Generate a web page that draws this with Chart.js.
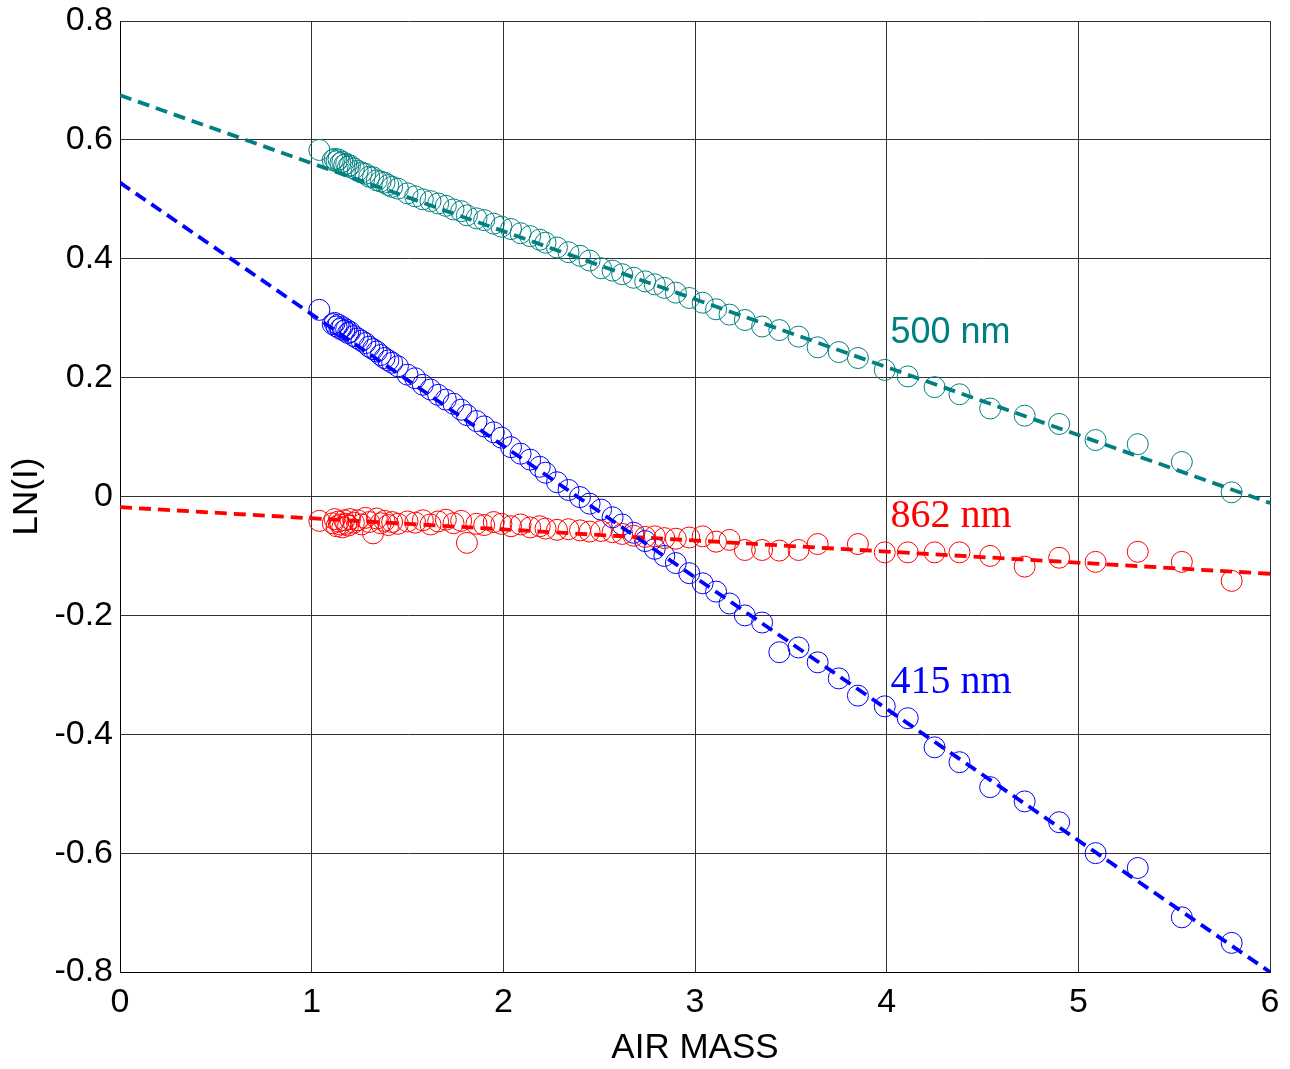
<!DOCTYPE html>
<html>
<head>
<meta charset="utf-8">
<script src="https://cdn.jsdelivr.net/npm/chart.js@4.4.1/dist/chart.umd.min.js"></script>
<style>
  html, body { margin: 0; padding: 0; background: #ffffff; }
  #wrap { width: 1290px; height: 1069px; }
</style>
</head>
<body>
<div id="wrap"><canvas id="c" width="1290" height="1069"></canvas></div>
<script>
// ---- Data ----
const airMass = [1.04, 1.11, 1.12, 1.13, 1.14, 1.15, 1.16, 1.17, 1.18, 1.19, 1.20, 1.22, 1.24, 1.26, 1.28, 1.30, 1.32, 1.34, 1.36, 1.38, 1.40, 1.42, 1.45, 1.50, 1.54, 1.58, 1.62, 1.66, 1.70, 1.74, 1.78, 1.81, 1.86, 1.90, 1.95, 1.99, 2.04, 2.09, 2.14, 2.19, 2.22, 2.28, 2.34, 2.40, 2.45, 2.51, 2.57, 2.62, 2.68, 2.74, 2.79, 2.84, 2.90, 2.97, 3.04, 3.11, 3.18, 3.26, 3.35, 3.44, 3.54, 3.64, 3.75, 3.85, 3.99, 4.11, 4.25, 4.38, 4.54, 4.72, 4.90, 5.09, 5.31, 5.54, 5.80];

const ln500 = [0.583, 0.566, 0.568, 0.564, 0.567, 0.561, 0.563, 0.558, 0.560, 0.555, 0.557, 0.552, 0.548, 0.545, 0.543, 0.538, 0.537, 0.532, 0.530, 0.528, 0.524, 0.521, 0.518, 0.510, 0.505, 0.500, 0.497, 0.493, 0.489, 0.483, 0.480, 0.473, 0.468, 0.465, 0.459, 0.454, 0.450, 0.443, 0.438, 0.432, 0.427, 0.419, 0.411, 0.405, 0.397, 0.384, 0.380, 0.374, 0.368, 0.362, 0.357, 0.351, 0.343, 0.334, 0.326, 0.315, 0.306, 0.297, 0.286, 0.280, 0.269, 0.251, 0.243, 0.233, 0.213, 0.202, 0.184, 0.172, 0.148, 0.136, 0.122, 0.095, 0.088, 0.058, 0.007];

const ln415 = [0.314, 0.290, 0.292, 0.286, 0.289, 0.282, 0.285, 0.279, 0.281, 0.275, 0.277, 0.270, 0.266, 0.262, 0.258, 0.252, 0.248, 0.244, 0.238, 0.233, 0.229, 0.225, 0.219, 0.205, 0.199, 0.188, 0.180, 0.171, 0.163, 0.156, 0.146, 0.137, 0.127, 0.118, 0.108, 0.099, 0.083, 0.072, 0.062, 0.050, 0.040, 0.024, 0.011, -0.001, -0.012, -0.022, -0.035, -0.047, -0.061, -0.075, -0.088, -0.100, -0.112, -0.129, -0.146, -0.160, -0.180, -0.200, -0.212, -0.262, -0.254, -0.279, -0.306, -0.335, -0.353, -0.373, -0.422, -0.447, -0.489, -0.513, -0.548, -0.600, -0.625, -0.708, -0.751];

const ln862 = [-0.041, -0.045, -0.038, -0.050, -0.042, -0.047, -0.052, -0.040, -0.046, -0.049, -0.038, -0.044, -0.040, -0.047, -0.036, -0.043, -0.062, -0.037, -0.045, -0.041, -0.048, -0.043, -0.046, -0.042, -0.044, -0.040, -0.047, -0.042, -0.039, -0.045, -0.041, -0.078, -0.046, -0.048, -0.043, -0.046, -0.050, -0.047, -0.052, -0.050, -0.054, -0.056, -0.055, -0.057, -0.059, -0.058, -0.060, -0.063, -0.066, -0.068, -0.067, -0.070, -0.071, -0.069, -0.067, -0.076, -0.073, -0.090, -0.090, -0.091, -0.090, -0.080, null, -0.080, -0.094, -0.094, -0.094, -0.094, -0.100, -0.118, -0.103, -0.110, -0.093, -0.110, -0.142];

// Fitted Langley lines: value at air mass 0 and at air mass 6
const fitX = [0, 6];
const fit500 = [0.675, -0.011];
const fit415 = [0.528, -0.800];
const fit862 = [-0.018, -0.130];

// Tick labels
const xTicks = [0, 1, 2, 3, 4, 5, 6];
const yTicks = [0.8, 0.6, 0.4, 0.2, 0, -0.2, -0.4, -0.6, -0.8];

// Series labels
const seriesLabels = ["500 nm", "862 nm", "415 nm"];

// ---- Build chart ----
const toPts = (xs, ys) => xs.map((x, i) => ({ x: x, y: ys[i] })).filter(p => p.y !== null);

const TEAL = '#008080', BLUE = '#0000ff', RED = '#ff0000';
const SANS = 'Arial, "Liberation Sans", sans-serif';
const SERIF = '"Times New Roman", "Liberation Serif", serif';

const labelPlugin = {
  id: 'seriesLabels',
  afterDraw(chart) {
    const { ctx, scales: { x, y } } = chart;
    const specs = [
      { t: seriesLabels[0], ax: 4.02, ay: 0.258, c: TEAL, f: '36px ' + SANS },
      { t: seriesLabels[1], ax: 4.02, ay: -0.052, c: RED, f: '40px ' + SERIF },
      { t: seriesLabels[2], ax: 4.02, ay: -0.330, c: BLUE, f: '40px ' + SERIF }
    ];
    ctx.save();
    ctx.textAlign = 'left';
    ctx.textBaseline = 'alphabetic';
    for (const s of specs) {
      ctx.font = s.f;
      ctx.fillStyle = s.c;
      ctx.fillText(s.t, x.getPixelForValue(s.ax), y.getPixelForValue(s.ay));
    }
    ctx.restore();
  }
};

const tickFont = { family: SANS, size: 34 };
const titleFont = { family: SANS, size: 35 };

new Chart(document.getElementById('c'), {
  type: 'scatter',
  data: {
    datasets: [
      { data: toPts(fitX, fit500), showLine: true, borderColor: TEAL, borderWidth: 3.8, borderDash: [12, 7], pointRadius: 0, order: 0 },
      { data: toPts(fitX, fit415), showLine: true, borderColor: BLUE, borderWidth: 3.8, borderDash: [12, 7], pointRadius: 0, order: 0 },
      { data: toPts(fitX, fit862), showLine: true, borderColor: RED, borderWidth: 3.8, borderDash: [12, 7], pointRadius: 0, order: 0 },
      { data: toPts(airMass, ln500), showLine: false, pointStyle: 'circle', pointRadius: 10.5, pointBorderWidth: 1, borderColor: TEAL, pointBorderColor: TEAL, pointBackgroundColor: 'rgba(0,0,0,0)', order: 1 },
      { data: toPts(airMass, ln862), showLine: false, pointStyle: 'circle', pointRadius: 10.5, pointBorderWidth: 1, borderColor: RED, pointBorderColor: RED, pointBackgroundColor: 'rgba(0,0,0,0)', order: 1 },
      { data: toPts(airMass, ln415), showLine: false, pointStyle: 'circle', pointRadius: 10.5, pointBorderWidth: 1, borderColor: BLUE, pointBorderColor: BLUE, pointBackgroundColor: 'rgba(0,0,0,0)', order: 1 }
    ]
  },
  options: {
    responsive: false,
    animation: false,
    devicePixelRatio: 1,
    layout: { padding: { top: 21, right: 20, left: 0, bottom: 0 } },
    plugins: { legend: { display: false }, tooltip: { enabled: false } },
    elements: { line: { tension: 0 } },
    scales: {
      x: {
        type: 'linear',
        min: xTicks[0], max: xTicks[xTicks.length - 1],
        afterBuildTicks: s => { s.ticks = xTicks.map(v => ({ value: v })); },
        afterFit: s => { s.height = 97; s.paddingLeft = 0; s.paddingRight = 0; },
        grid: { color: '#303030', lineWidth: 1, drawTicks: false },
        border: { color: '#000000', width: 1 },
        ticks: { color: '#000000', font: tickFont, padding: 10, maxRotation: 0, callback: v => String(v) },
        title: { display: true, text: 'AIR MASS', color: '#000000', font: titleFont, padding: { top: 0, bottom: 0 } }
      },
      y: {
        type: 'linear',
        min: yTicks[yTicks.length - 1], max: yTicks[0],
        afterBuildTicks: s => { s.ticks = yTicks.slice().reverse().map(v => ({ value: v })); },
        afterFit: s => { s.width = 120; s.paddingTop = 0; s.paddingBottom = 0; },
        grid: { color: '#303030', lineWidth: 1, drawTicks: false },
        border: { color: '#000000', width: 1 },
        ticks: { color: '#000000', font: tickFont, padding: 7, callback: v => String(Number(Number(v).toFixed(1))) },
        title: { display: true, text: 'LN(I)', color: '#000000', font: titleFont, padding: { top: 6, bottom: 0 } }
      }
    }
  },
  plugins: [labelPlugin]
});
</script>
</body>
</html>
